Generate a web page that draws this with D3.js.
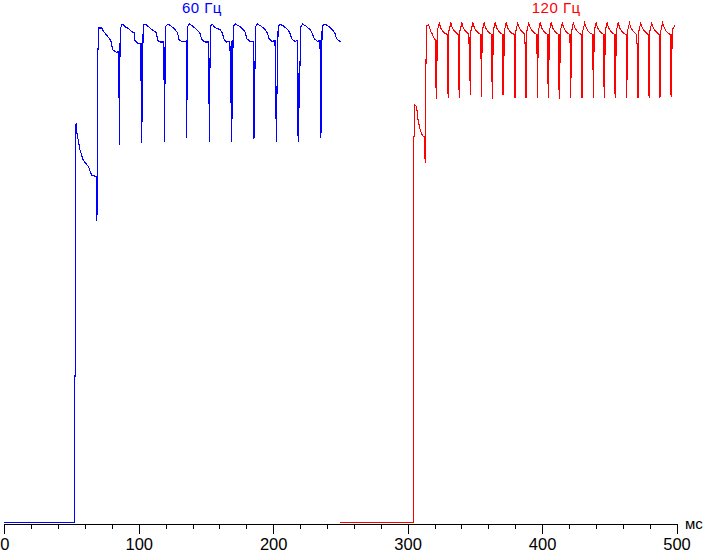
<!DOCTYPE html>
<html>
<head>
<meta charset="utf-8">
<script src="https://cdn.jsdelivr.net/npm/d3@7"></script>
<style>
  html, body { margin: 0; padding: 0; background: #fff; }
  svg { display: block; }
  .axis text { font-family: Arial, "Liberation Sans", sans-serif; }
</style>
</head>
<body>
<svg id="chart"></svg>
<script>
// tick values (ms)
var majorTicks = [0, 100, 200, 300, 400, 500];
var minorTicks = [20, 40, 60, 80, 120, 140, 160, 180, 220, 240, 260, 280,
                  320, 340, 360, 380, 420, 440, 460, 480];
var unitLabel = "мс";
var seriesNames = ["60 Гц", "120 Гц"];
var seriesColors = ["#0000ff", "#ff0000"];

// brightness traces, [time ms, level %]
var trace60 = [
  [0,0.3],[52.0,0.3],[52.1,29.6],[52.8,29.6],[52.9,79.9],[53.4,80.0],[53.8,78.5],[56.3,74.8],
  [58.7,72.8],[62.5,71.5],[65.0,69.8],[68.2,69.5],[68.7,67.8],[68.9,60.7],[69.1,67.8],[69.4,93.1],[70.4,99.2],
  [72.4,99.2],[73.4,98.7],[74.9,98.2],[76.9,97.5],[78.6,96.9],[79.9,96.2],[80.3,94.9],[82.3,94.5],[83.6,94.3],[84.8,94.5],[85.1,85.2],[85.25,94.5],[85.5,75.9],
  [86.2,98.9],[87.7,100],[89.7,99.5],[92.2,99.1],[94.7,98.5],[96.7,98.2],[97.2,96.7],[99.2,96.2],[100.9,96.0],[101.6,96.2],[101.8,84.0],[101.95,96.2],[102.2,76.2],
  [103.3,99.7],[104.6,100],[107.1,99.5],[109.6,98.9],[112.0,98.5],[113.3,98.2],[114.0,96.7],[115.8,96.4],[118.2,96.4],[118.6,88.9],[118.75,96.4],[119.0,76.5],
  [120.0,99.5],[121.8,100],[124.5,99.5],[126.9,98.9],[128.9,98.2],[129.9,96.9],[131.9,96.5],[133.8,96.4],[135.2,96.6],[135.3,77.3],[135.45,96.6],[135.6,77.3],
  [136.4,99.5],[137.8,100],[140.5,99.5],[143.0,98.9],[145.5,98.2],[146.8,96.9],[149.2,96.4],[151.7,96.4],[152.0,91.2],[152.15,96.4],[152.4,76.5],
  [153.3,99.5],[154.6,100],[156.7,99.3],[160.4,98.9],[162.1,98.2],[163.6,96.9],[165.4,96.4],[167.8,96.5],[168.7,83.7],[168.85,96.5],[169.1,76.5],
  [170.3,99.5],[172.0,100],[175.2,99.5],[177.7,98.9],[179.5,98.2],[180.2,97.1],[182.7,96.5],[185.1,96.5],[185.3,80.4],[185.45,96.5],[185.7,77.1],
  [186.9,99.5],[188.4,100],[191.4,99.5],[193.8,98.9],[195.8,98.2],[196.8,97.1],[199.3,96.5],[201.3,96.7],[201.8,91.2],[201.95,96.7],[202.2,76.5],
  [203.7,99.5],[205.0,100],[208.2,99.5],[210.7,98.9],[212.4,98.2],[213.7,97.1],[216.1,96.5],[218.1,96.7],[218.2,77.7],[218.35,96.7],[218.6,76.5],
  [220.6,99.5],[221.9,100],[224.8,99.5],[227.3,98.9],[229.0,98.2],[230.5,97.1],[233.0,96.5],[234.7,96.7],[235.1,92.9],[235.25,96.7],[235.5,77.3],
  [236.4,99.5],[238.4,100],[241.4,99.5],[243.9,98.9],[245.9,98.2],[247.1,97.1],[249.6,96.5],[250.3,96.4]
];

var trace120 = [
  [250,0.3],[304.6,0.3],[304.7,77.5],[305.3,77.5],[305.4,83.8],[306.6,83.5],[307.8,80.8],[309.1,79.1],
  [310.3,78.1],[311.5,77.6],[312.8,77.5],[313.0,72.3],[313.2,77.5],[313.4,87.8],[314.1,99.6],[315.7,99.8],
  [316.5,99.1],[317.2,98.5],[318.2,98.1],[319.0,97.5],[320.2,96.9],[321.0,96.7],[321.1,87.3],[321.25,96.7],[321.5,85.1],
  [322.1,98.6],[323.5,100.2],[324.7,99.2],[326.1,98.6],[328.0,98.1],[329.6,97.9],[329.7,86.1],[329.85,97.9],[330.1,85.3],
  [330.7,98.6],[332.1,100.2],[333.3,99.2],[334.7,98.6],[336.6,98.1],[337.8,97.9],[337.9,90.7],[338.05,97.9],[338.3,85.3],
  [338.9,98.6],[340.3,100.2],[341.5,99.2],[342.9,98.6],[344.8,98.1],[345.6,97.9],[345.7,96.1],[346.3,96.1],[346.5,85.8],
  [347.1,98.6],[348.5,100.2],[349.7,99.2],[351.1,98.6],[353.0,98.1],[354.4,97.9],[354.5,93.1],[354.65,97.9],[354.9,85.5],
  [355.5,98.6],[356.9,100.2],[358.1,99.2],[359.5,98.6],[361.4,98.1],[362.6,97.9],[362.7,88.5],[362.85,97.9],[363.1,85.1],
  [363.7,98.6],[365.1,100.2],[366.3,99.2],[367.7,98.6],[369.6,98.1],[370.8,97.9],[370.9,85.8],[371.05,97.9],[371.3,85.8],
  [371.9,98.6],[373.3,100.2],[374.5,99.2],[375.9,98.6],[377.8,98.1],[379.4,97.9],[379.5,89.5],[379.65,97.9],[379.9,85.3],
  [380.5,98.6],[381.9,100.2],[383.1,99.2],[384.5,98.6],[386.4,98.1],[387.2,97.9],[387.3,96.1],[387.9,96.1],[388.1,85.3],
  [388.7,98.6],[390.1,100.2],[391.3,99.2],[392.7,98.6],[394.6,98.1],[396.1,97.9],[396.2,94.1],[396.35,97.9],[396.6,85.3],
  [397.2,98.6],[398.6,100.2],[399.8,99.2],[401.2,98.6],[403.1,98.1],[404.3,97.9],[404.4,88.0],[404.55,97.9],[404.8,85.3],
  [405.4,98.6],[406.8,100.2],[408.0,99.2],[409.4,98.6],[411.3,98.1],[412.5,97.9],[412.6,86.8],[412.75,97.9],[413.0,85.1],
  [413.6,98.6],[415.0,100.2],[416.2,99.2],[417.6,98.6],[419.5,98.1],[420.8,97.9],[420.9,92.3],[421.05,97.9],[421.3,85.3],
  [422.0,98.6],[423.3,100.2],[424.5,99.2],[425.9,98.6],[427.8,98.1],[429.2,97.9],[429.3,94.1],[429.45,97.9],[429.7,85.3],
  [430.3,98.6],[431.7,100.2],[432.9,99.2],[434.3,98.6],[436.2,98.1],[437.7,97.9],[437.8,90.8],[437.95,97.9],[438.2,85.3],
  [438.8,98.6],[440.2,100.2],[441.4,99.2],[442.8,98.6],[444.7,98.1],[445.9,97.9],[446.0,87.5],[446.15,97.9],[446.4,85.3],
  [447.0,98.6],[448.4,100.2],[449.6,99.2],[451.0,98.6],[452.9,98.1],[454.1,97.9],[454.2,86.1],[454.35,97.9],[454.6,85.3],
  [455.2,98.6],[456.6,100.2],[457.8,99.2],[459.2,98.6],[461.1,98.1],[462.5,97.9],[462.6,90.5],[462.75,97.9],[463.0,85.3],
  [463.6,98.6],[465.0,100.2],[466.2,99.2],[467.6,98.6],[469.5,98.1],[470.5,97.9],[470.6,96.1],[471.2,96.1],[471.4,85.3],
  [472.0,98.6],[473.4,100.2],[474.6,99.2],[476.0,98.6],[477.9,98.1],[479.1,97.9],[479.2,93.1],[479.35,97.9],[479.6,85.3],
  [480.2,98.6],[481.6,100.2],[482.8,99.2],[484.2,98.6],[486.1,98.1],[487.2,97.9],[487.3,88.5],[487.45,97.9],[487.7,85.3],
  [488.3,98.6],[489.7,100.2],[490.9,99.2],[492.3,98.6],[494.2,98.1],[495.7,97.9],[495.8,85.8],[495.95,97.9],[496.2,85.5],
  [496.8,98.6],[497.4,99.1],[498.0,99.2],[498.4,99.6],[498.9,99.6]
];

var W = 703, H = 552;
var margin = {top: 24, right: 26.5, bottom: 28, left: 4.3},
    width = W - margin.left - margin.right,
    height = H - margin.top - margin.bottom;

var svg = d3.select("#chart")
    .attr("width", W)
    .attr("height", H),
    g = svg.append("g").attr("transform", "translate(" + margin.left + "," + margin.top + ")");

var x = d3.scaleLinear().domain([0, 500]).range([0, width]);
var y = d3.scaleLinear().domain([0, 100]).range([height, 0]);

var line = d3.line()
    .x(function(d) { return x(d[0]); })
    .y(function(d) { return y(d[1]); });

// minor ticks
g.append("g")
  .attr("class", "axis minor")
  .attr("transform", "translate(0," + height + ")")
  .call(d3.axisBottom(x).tickValues(minorTicks).tickSize(5).tickFormat(""))
  .call(function(a) { a.select(".domain").remove(); });

// major axis
var x_axis = g.append("g")
  .attr("class", "axis major")
  .attr("transform", "translate(0," + height + ")")
  .call(d3.axisBottom(x).tickValues(majorTicks).tickSize(10).tickSizeOuter(0).tickPadding(4));

x_axis.selectAll("text")
  .attr("font-size", "16.5px")
  .attr("fill", "#000");
svg.selectAll(".axis line, .axis path")
  .attr("stroke", "#000")
  .attr("shape-rendering", "crispEdges");

// unit label
svg.append("text")
  .attr("x", margin.left + width + 8.5)
  .attr("y", margin.top + height + 5)
  .attr("font-family", "Arial, 'Liberation Sans', sans-serif")
  .attr("font-size", "15px")
  .attr("fill", "#000")
  .text(unitLabel);

// traces
[trace60, trace120].forEach(function(tr, i) {
  g.append("path")
    .datum(tr)
    .attr("fill", "none")
    .attr("stroke", seriesColors[i])
    .attr("stroke-width", 1.1)
    .attr("stroke-linejoin", "miter")
    .attr("shape-rendering", "crispEdges")
    .attr("d", line);
});

// series titles
var titleAt = [147, 410.5];
seriesNames.forEach(function(n, i) {
  g.append("text")
    .attr("x", x(titleAt[i]))
    .attr("y", -11)
    .attr("text-anchor", "middle")
    .attr("font-family", "Arial, 'Liberation Sans', sans-serif")
    .attr("font-size", "15px")
    .attr("letter-spacing", "0.5px")
    .attr("fill", seriesColors[i])
    .text(n);
});
</script>
</body>
</html>
